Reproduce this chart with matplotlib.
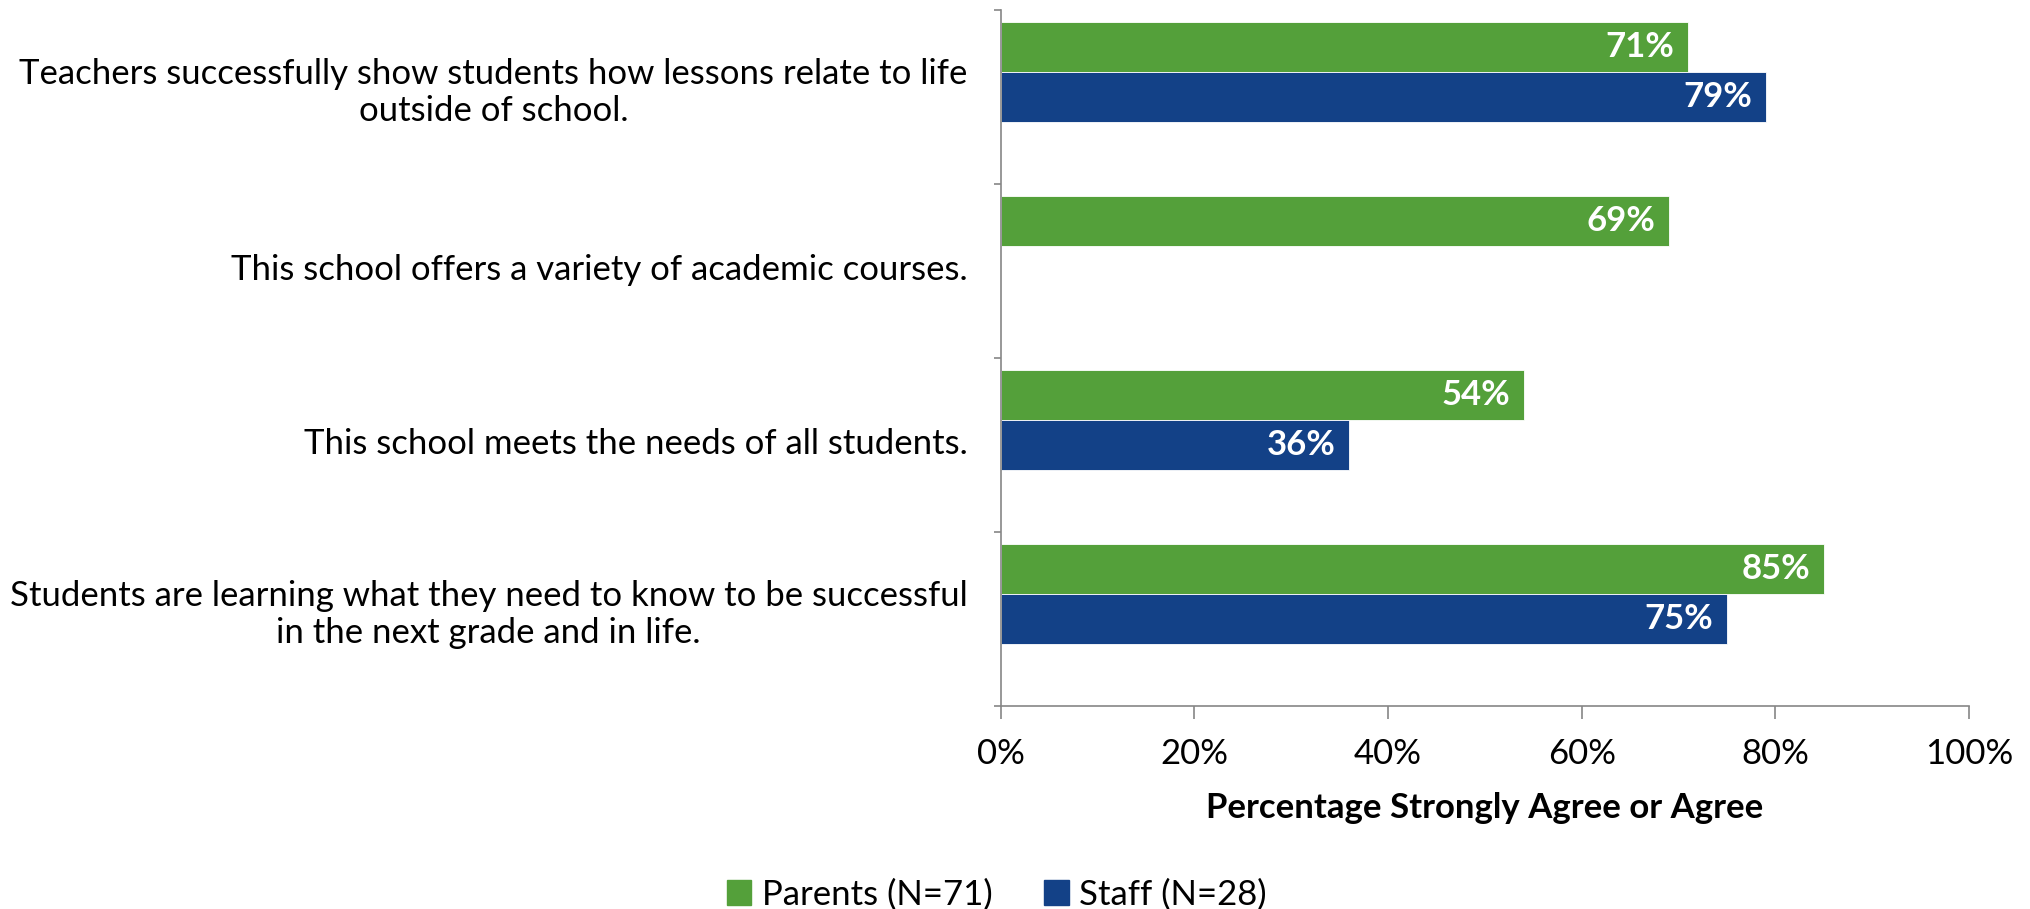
import matplotlib.pyplot as plt
import matplotlib.transforms as mtransforms
from matplotlib.patches import Patch

# data (top to bottom as in the chart)
categories = [
    "Teachers successfully show students how lessons relate to life\noutside of school.",
    "This school offers a variety of academic courses.",
    "This school meets the needs of all students.",
    "Students are learning what they need to know to be successful\nin the next grade and in life.",
]
parents = [71, 69, 54, 85]
staff = [79, None, 36, 75]
series_names = ["Parents (N=71)", "Staff (N=28)"]

green = "#54A03A"
blue = "#134187"
axis_gray = "#868686"

plt.rcParams['font.family'] = ['Lato', 'DejaVu Sans']
fs = 25

fig = plt.figure(figsize=(20.3, 9.09), dpi=100)
ax = fig.add_axes([0.493, 0.2233, 0.477, 0.766])

n = len(categories)
centers = [n - 1 - i for i in range(n)]
h = 0.286

# Excel-style placement: staff bar sits on the category centre, parents just above
for c, p, s in zip(centers, parents, staff):
    if p is not None:
        ax.barh(c + h, p, height=h, color=green, edgecolor="white", linewidth=0.6)
        ax.annotate(f"{p}%", (p, c + h), xytext=(-10, 0), textcoords="offset points",
                    ha="right", va="center", color="white", fontsize=fs, fontweight="bold")
    if s is not None:
        ax.barh(c, s, height=h, color=blue, edgecolor="white", linewidth=0.6)
        ax.annotate(f"{s}%", (s, c), xytext=(-10, 0), textcoords="offset points",
                    ha="right", va="center", color="white", fontsize=fs, fontweight="bold")

ax.set_xlim(0, 100)
ax.set_ylim(-0.5, n - 0.5)
ax.set_xticks(range(0, 101, 20))
ax.set_xticklabels([f"{v}%" for v in range(0, 101, 20)], fontsize=fs)
ax.set_yticks([i - 0.5 for i in range(n + 1)])
ax.set_yticklabels([])
ax.set_yticks(centers, categories, minor=True, fontsize=fs, multialignment="center")
ax.tick_params(axis="y", which="minor", length=0, pad=24)
ax.tick_params(axis="y", which="major", length=5, color=axis_gray, width=1.2)
ax.tick_params(axis="x", length=9, color=axis_gray, width=1.2, pad=14)

# nudge the category labels up a little, like the original
for lab in ax.get_yticklabels(minor=True):
    dy = 10 if "\n" in lab.get_text() else 4
    lab.set_transform(lab.get_transform() + mtransforms.ScaledTranslation(0, dy / 100, fig.dpi_scale_trans))

for side in ["top", "right"]:
    ax.spines[side].set_visible(False)
for side in ["left", "bottom"]:
    ax.spines[side].set_color(axis_gray)
    ax.spines[side].set_linewidth(1.2)

ax.set_xlabel("Percentage Strongly Agree or Agree", fontsize=fs, fontweight="bold", labelpad=16)

handles = [Patch(color=green), Patch(color=blue)]
fig.legend(handles, series_names, loc="center", bbox_to_anchor=(0.491, 0.016), ncol=2,
           frameon=False, fontsize=fs, handlelength=0.7, handleheight=0.7,
           handletextpad=0.3, columnspacing=1.5)

fig.savefig("out.png", dpi=100)
